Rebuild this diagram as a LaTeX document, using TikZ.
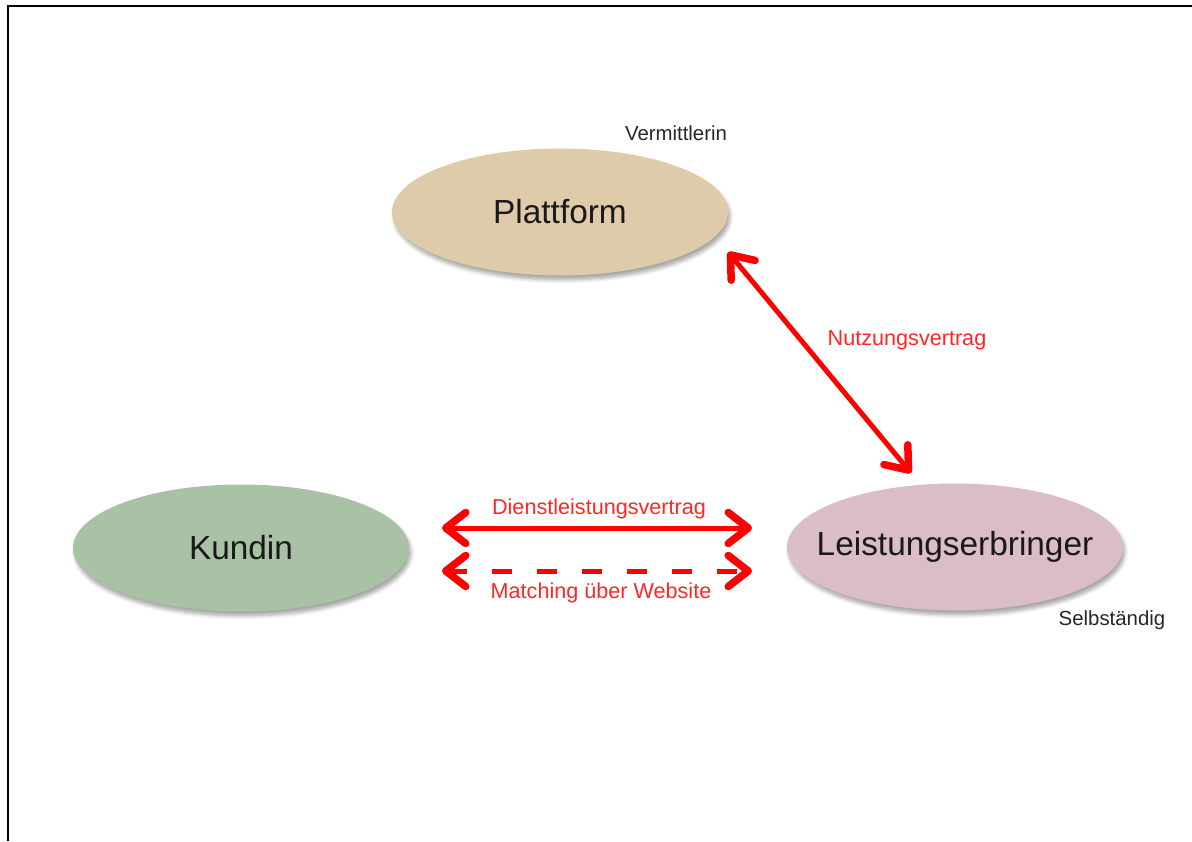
\documentclass[tikz,border=0pt]{standalone}
\usepackage{fontspec}
\setmainfont{Liberation Sans}
\usetikzlibrary{shapes.geometric,arrows.meta,shadows.blur}

\definecolor{tan}{HTML}{DDCBA9}
\definecolor{sage}{HTML}{A9C1A4}
\definecolor{rose}{HTML}{DBBCC9}
\definecolor{vred}{HTML}{FF0000}

\tikzset{
	party/.style={ellipse, minimum width=6.72cm, minimum height=2.54cm, inner xsep=-0.45cm, inner ysep=0pt,
		font=\fontsize{19}{22}\selectfont, text=black!90,
		blur shadow={shadow xshift=0.04cm, shadow yshift=-0.09cm, shadow blur steps=6, shadow opacity=35}},
	role/.style={font=\fontsize{11.6}{14}\selectfont, text=black!85},
	deal/.style={font=\fontsize{12.3}{14}\selectfont, text=vred!85},
	barb/.tip={Straight Barb[length=0.4cm, width=0.62cm, line width=0.15cm, round]},
	contract/.style={draw=vred, line width=0.1cm, barb-barb},
	loose/.style={contract, dash pattern=on 0.4cm off 0.5cm, dash phase=0.95cm}
}

\begin{document}
\begin{tikzpicture}
	\useasboundingbox (0, 0) rectangle (23.84, 16.82);
	% frame
	\draw[line width=0.045cm] (0.16, 0) -- (0.16, 16.7) -- (23.84, 16.7);

	% parties
	\node[party, fill=tan] at (11.2, 12.58) (plattform) {Plattform};
	\node[party, fill=sage] at (4.82, 5.86) (kundin) {Kundin};
	\node[party, fill=rose] at (19.1, 5.88) (leister) {Leistungserbringer};
	\node[role] at (13.52, 14.16) (vermittlerin) {Vermittlerin};
	\node[role] at (22.24, 4.42) (selbst) {Selbständig};

	% arrow ends
	\coordinate (nutzA) at (14.56, 11.78);
	\coordinate (nutzB) at (18.22, 7.36);
	\coordinate (dienstA) at (8.84, 6.26);
	\coordinate (dienstB) at (15.04, 6.26);
	\coordinate (matchA) at (8.84, 5.40);
	\coordinate (matchB) at (15.04, 5.40);

	% contracts
	\draw[contract] (nutzA) -- (nutzB);
	\node[deal] at (18.14, 10.02) (nutzung) {Nutzungsvertrag};
	\draw[contract] (dienstA) -- (dienstB);
	\node[deal] at (11.98, 6.64) (dienst) {Dienstleistungsvertrag};
	\draw[loose] (matchA) -- (matchB);
	\node[deal] at (12.02, 4.96) (matching) {Matching über Website};
\end{tikzpicture}
\end{document}
